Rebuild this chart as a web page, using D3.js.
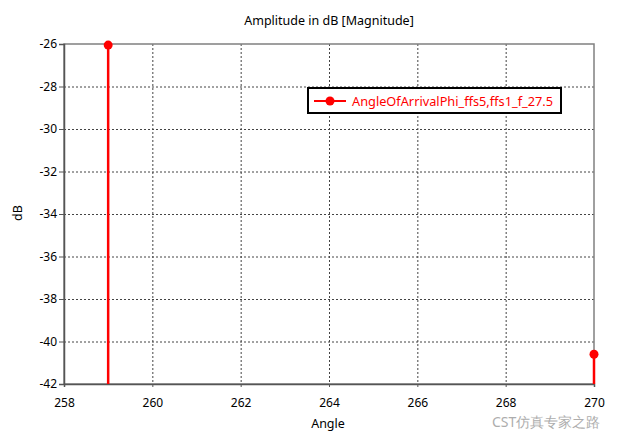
<!DOCTYPE html>
<html><head><meta charset="utf-8">
<script src="https://cdn.jsdelivr.net/npm/d3@7"></script>
<style>body{margin:0;background:#fff}svg{display:block}text{font-family:"Noto Sans","DejaVu Sans",sans-serif}</style>
</head><body>
<svg id="c" width="624" height="435"></svg>
<script>
const angles = [259, 270];
const values = [-26.05, -40.6];
const xTicks = [258, 260, 262, 264, 266, 268, 270];
const yTicks = [-26, -28, -30, -32, -34, -36, -38, -40, -42];
const seriesName = "AngleOfArrivalPhi_ffs5,ffs1_f_27.5";
const title = "Amplitude in dB [Magnitude]";
const xLabel = "Angle", yLabel = "dB";
const watermark = "CST仿真专家之路";

const FONT = "'Noto Sans','DejaVu Sans',sans-serif";
const svg = d3.select("#c");
const m = {l:64, r:594, t:44, b:384};
const x = d3.scaleLinear().domain([258, 270]).range([m.l, m.r]);
const y = d3.scaleLinear().domain([-42, -26]).range([m.b, m.t]);
const fmt = d => String(d);

// grid
svg.append("g").selectAll("line").data(xTicks.slice(1,-1)).join("line")
  .attr("x1", d=>x(d)+0.5).attr("x2", d=>x(d)+0.5).attr("y1", m.t).attr("y2", m.b)
  .attr("stroke", "#444").attr("stroke-width", 1).attr("stroke-dasharray", "2,2");
svg.append("g").selectAll("line").data(yTicks.slice(1,-1)).join("line")
  .attr("y1", d=>y(d)+0.5).attr("y2", d=>y(d)+0.5).attr("x1", m.l).attr("x2", m.r)
  .attr("stroke", "#444").attr("stroke-width", 1).attr("stroke-dasharray", "2,2");

// frame
svg.append("rect").attr("x", m.l).attr("y", m.t).attr("width", m.r-m.l).attr("height", m.b-m.t)
  .attr("fill", "none").attr("stroke", "#808080").attr("stroke-width", 1.5);

// axes
const yAxis = d3.axisLeft(y).tickValues(yTicks).tickSize(5).tickFormat(fmt);
const gy = svg.append("g").attr("transform", `translate(${m.l},0)`).call(yAxis);
gy.select(".domain").attr("stroke", "#555").attr("stroke-width", 1.5);
gy.selectAll(".tick line").attr("stroke", "#555");
gy.selectAll(".tick text").attr("font-size", 12).attr("fill", "#000").attr("x", -7).attr("font-family", FONT);

const xAxis = d3.axisBottom(x).tickValues(xTicks).tickSize(3).tickFormat(fmt);
const gx = svg.append("g").attr("transform", `translate(0,${m.b})`).call(xAxis);
gx.select(".domain").attr("stroke", "#555").attr("stroke-width", 1.5);
gx.selectAll(".tick line").attr("stroke", "#555");
gx.selectAll(".tick text").attr("font-size", 12).attr("fill", "#000").attr("y", 14).attr("dy", "0.71em").attr("font-family", FONT);

// stems
const pts = angles.map((a,i)=>({a, v:values[i]}));
svg.append("g").selectAll("line").data(pts).join("line")
  .attr("x1", d=>x(d.a)).attr("x2", d=>x(d.a)).attr("y1", d=>y(d.v)).attr("y2", y(-42))
  .attr("stroke", "#ff0000").attr("stroke-width", 2.5);
svg.append("g").selectAll("circle").data(pts).join("circle")
  .attr("cx", d=>x(d.a)).attr("cy", d=>y(d.v)).attr("r", 4.5).attr("fill", "#ff0000");

// titles
svg.append("text").attr("x", 329).attr("y", 25).attr("text-anchor", "middle").attr("font-size", 12.5).text(title);
svg.append("text").attr("x", 328).attr("y", 428).attr("text-anchor", "middle").attr("font-size", 12.5).text(xLabel);
svg.append("text").attr("transform", "translate(22,213) rotate(-90)").attr("text-anchor", "middle").attr("font-size", 12.5).text(yLabel);

// legend
const lg = svg.append("g");
lg.append("rect").attr("x", 308).attr("y", 88).attr("width", 253).attr("height", 25)
  .attr("fill", "#fff").attr("stroke", "#000").attr("stroke-width", 2);
lg.append("line").attr("x1", 314).attr("x2", 346).attr("y1", 101).attr("y2", 101).attr("stroke", "#ff0000").attr("stroke-width", 2);
lg.append("circle").attr("cx", 330).attr("cy", 101).attr("r", 4.5).attr("fill", "#ff0000");
lg.append("text").attr("x", 352).attr("y", 105.5).attr("font-size", 12.5).attr("fill", "#ff0000")
  .attr("textLength", 201).attr("lengthAdjust", "spacingAndGlyphs").text(seriesName);

// watermark
svg.append("text").attr("x", 492).attr("y", 427).attr("font-size", 14).attr("fill", "#999").attr("opacity", 0.8)
  .attr("font-family", "'Noto Sans CJK SC',sans-serif").text(watermark);
</script>
</body></html>
